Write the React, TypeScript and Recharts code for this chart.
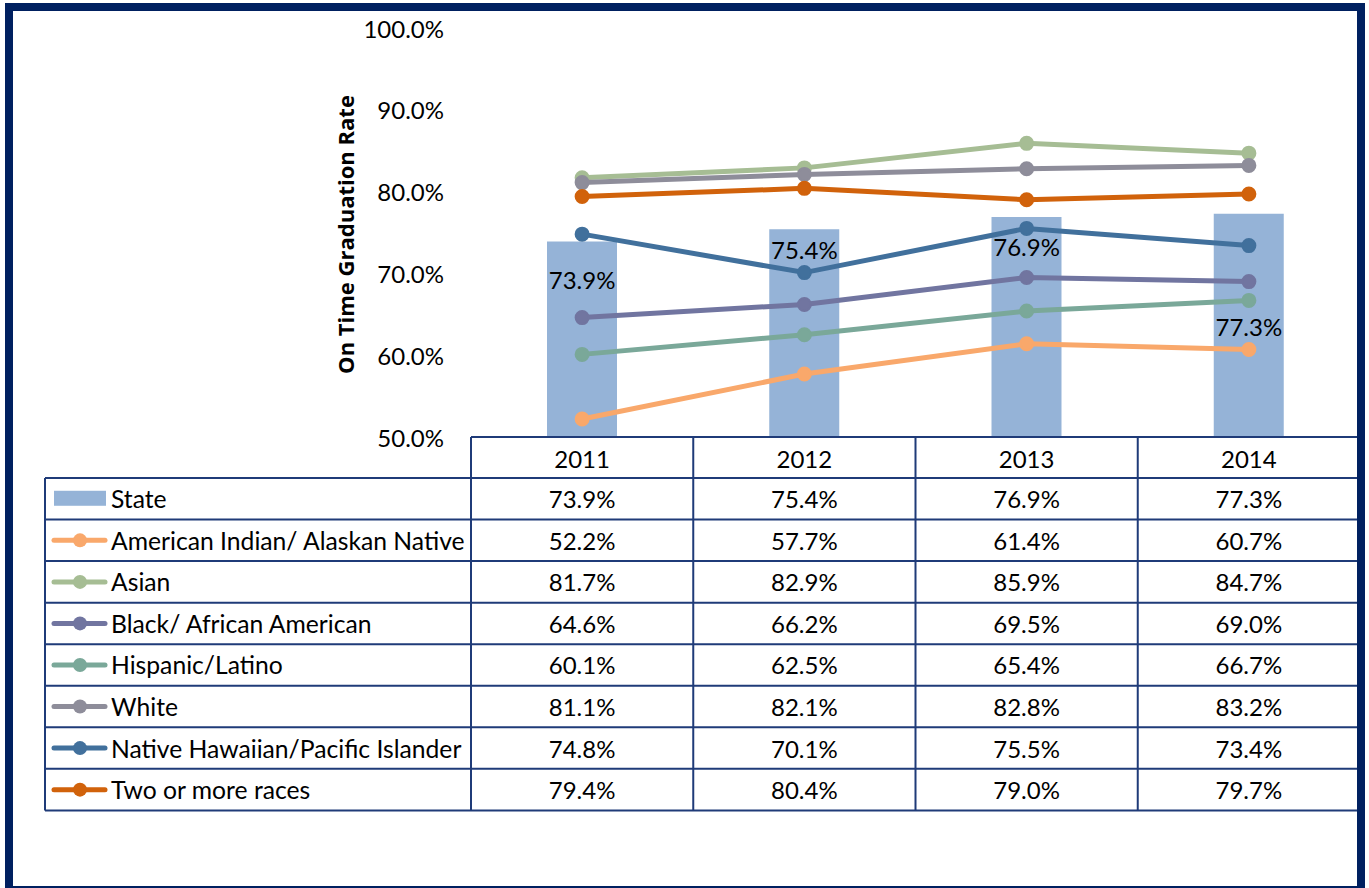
import React from 'react';
import { ComposedChart, Bar, Line, XAxis, YAxis, LabelList } from 'recharts';

const years = ['2011', '2012', '2013', '2014'];
const stateRate = [73.9, 75.4, 76.9, 77.3];
const amIndian = [52.2, 57.7, 61.4, 60.7];
const asian = [81.7, 82.9, 85.9, 84.7];
const black = [64.6, 66.2, 69.5, 69.0];
const hispanic = [60.1, 62.5, 65.4, 66.7];
const white = [81.1, 82.1, 82.8, 83.2];
const nhpi = [74.8, 70.1, 75.5, 73.4];
const twoPlus = [79.4, 80.4, 79.0, 79.7];
const yTicks = [50, 60, 70, 80, 90, 100];

const lineSeries = [
  { key: 'amIndian', name: 'American Indian/ Alaskan Native', values: amIndian, color: '#F9A86B' },
  { key: 'asian', name: 'Asian', values: asian, color: '#A6BD94' },
  { key: 'black', name: 'Black/ African American', values: black, color: '#7175A0' },
  { key: 'hispanic', name: 'Hispanic/Latino', values: hispanic, color: '#7AA899' },
  { key: 'white', name: 'White', values: white, color: '#8E8D9A' },
  { key: 'nhpi', name: 'Native Hawaiian/Pacific Islander', values: nhpi, color: '#41709C' },
  { key: 'twoPlus', name: 'Two or more races', values: twoPlus, color: '#D1620B' },
];

const data = years.map((y, i) => {
  const row: Record<string, any> = { year: y, state: stateRate[i] };
  lineSeries.forEach((s) => { row[s.key] = s.values[i]; });
  return row;
});

// layout / style constants
const W = 1369;
const H = 888;
const PLOT_LEFT = 471;
const PLOT_RIGHT = 1360;
const PLOT_TOP = 28;
const PLOT_BOTTOM = 437;
const TABLE_LEFT = 45;
const HEADER_BOTTOM = 478;
const ROW_H = 41.55;
const NAVY = '#002060';
const GRID = '#1F3B78';
const BAR_COLOR = '#95B3D7';
const FONT = 'Lato, "Open Sans", sans-serif';
const FS = 24;
const FS_NAME = 24.7;
const labelDy = [38, 20, 30, 113];

const fmt = (v: number) => `${v.toFixed(1)}%`;

const YTick = (props: any) => {
  const { x, y, payload } = props;
  return (
    <text x={x} y={y} textAnchor="end" dominantBaseline="central" fontFamily={FONT} fontSize={FS} fill="#000">
      {fmt(payload.value)}
    </text>
  );
};

const YTitle = (props: any) => {
  const vb = props.viewBox || {};
  const cx = vb.x + 45;
  const cy = vb.y + vb.height / 2 + 2;
  return (
    <text
      x={cx}
      y={cy}
      transform={`rotate(-90, ${cx}, ${cy})`}
      textAnchor="middle"
      dominantBaseline="central"
      fontFamily='"Open Sans", sans-serif'
      fontWeight={700}
      fontSize={22}
      fill="#000"
    >
      On Time Graduation Rate
    </text>
  );
};

const StateLabel = (props: any) => {
  const { x, y, value, index } = props;
  return (
    <text x={x} y={y + labelDy[index]} textAnchor="middle" dominantBaseline="central" fontFamily={FONT} fontSize={FS} fill="#000">
      {fmt(value)}
    </text>
  );
};

const DataTable = () => {
  const colW = (PLOT_RIGHT - PLOT_LEFT) / years.length;
  const rows = [{ name: 'State', values: stateRate, color: BAR_COLOR, bar: true }, ...lineSeries.map((s) => ({ ...s, bar: false }))];
  const tableBottom = HEADER_BOTTOM + rows.length * ROW_H;
  const els: React.ReactNode[] = [];
  els.push(<line key="ht" x1={PLOT_LEFT} x2={PLOT_RIGHT} y1={PLOT_BOTTOM} y2={PLOT_BOTTOM} stroke={GRID} strokeWidth={2} />);
  for (let i = 0; i <= rows.length; i++) {
    const y = HEADER_BOTTOM + i * ROW_H;
    els.push(<line key={`h${i}`} x1={TABLE_LEFT} x2={PLOT_RIGHT} y1={y} y2={y} stroke={GRID} strokeWidth={2} />);
  }
  for (let k = 0; k <= years.length; k++) {
    const x = PLOT_LEFT + k * colW;
    els.push(<line key={`v${k}`} x1={x} x2={x} y1={PLOT_BOTTOM} y2={tableBottom} stroke={GRID} strokeWidth={2} />);
  }
  els.push(<line key="vl" x1={TABLE_LEFT} x2={TABLE_LEFT} y1={HEADER_BOTTOM} y2={tableBottom} stroke={GRID} strokeWidth={2} />);
  years.forEach((yr, k) => {
    els.push(
      <text key={`yt${k}`} x={PLOT_LEFT + (k + 0.5) * colW} y={(PLOT_BOTTOM + HEADER_BOTTOM) / 2 + 1} textAnchor="middle" dominantBaseline="central" fontFamily={FONT} fontSize={FS} fill="#000">
        {yr}
      </text>
    );
  });
  rows.forEach((r, i) => {
    const cy = HEADER_BOTTOM + (i + 0.5) * ROW_H;
    if (r.bar) {
      els.push(<rect key={`ic${i}`} x={54} y={cy - 8} width={52} height={15} fill={r.color} />);
    } else {
      els.push(<line key={`il${i}`} x1={54} x2={105} y1={cy} y2={cy} stroke={r.color} strokeWidth={5} strokeLinecap="round" />);
      els.push(<circle key={`id${i}`} cx={80} cy={cy} r={7} fill={r.color} />);
    }
    els.push(
      <text key={`nm${i}`} x={111} y={cy} dominantBaseline="central" fontFamily={FONT} fontSize={FS_NAME} fill="#000">
        {r.name}
      </text>
    );
    r.values.forEach((v, k) => {
      els.push(
        <text key={`c${i}-${k}`} x={PLOT_LEFT + (k + 0.5) * colW} y={cy} textAnchor="middle" dominantBaseline="central" fontFamily={FONT} fontSize={FS} fill="#000">
          {fmt(v)}
        </text>
      );
    });
  });
  return (
    <svg width={W} height={H} style={{ position: 'absolute', left: 0, top: 0, pointerEvents: 'none' }}>
      {els}
    </svg>
  );
};

export default function App() {
  return (
    <div style={{ position: 'absolute', left: 0, top: 0, width: W, height: H, overflow: 'hidden', background: '#fff' }}>
      <div style={{ position: 'absolute', left: 0, top: 0 }}>
        <ComposedChart
          width={W}
          height={H}
          data={data}
          margin={{ top: PLOT_TOP, right: W - PLOT_RIGHT, bottom: H - PLOT_BOTTOM, left: 300 }}
        >
          <XAxis dataKey="year" type="category" hide />
          <YAxis
            type="number"
            domain={[50, 100]}
            ticks={yTicks}
            width={PLOT_LEFT - 300}
            axisLine={false}
            tickLine={false}
            tickSize={6}
            tickMargin={21}
            tick={<YTick />}
            interval={0}
            label={<YTitle />}
          />
          <Bar dataKey="state" name="State" fill={BAR_COLOR} barSize={70} isAnimationActive={false} />
          {lineSeries.map((s) => (
            <Line
              key={s.key}
              dataKey={s.key}
              name={s.name}
              stroke={s.color}
              strokeWidth={5}
              dot={{ r: 6.5, fill: s.color, stroke: s.color, strokeWidth: 2 }}
              activeDot={false}
              isAnimationActive={false}
            />
          ))}
          <Line dataKey="state" stroke="none" dot={false} activeDot={false} legendType="none" isAnimationActive={false}>
            <LabelList dataKey="state" content={<StateLabel />} />
          </Line>
        </ComposedChart>
      </div>
      <DataTable />
      <div
        style={{
          position: 'absolute',
          left: 5,
          top: 3,
          width: 1360,
          height: 891,
          border: `8px solid ${NAVY}`,
          boxSizing: 'border-box',
          pointerEvents: 'none',
        }}
      />
    </div>
  );
}
